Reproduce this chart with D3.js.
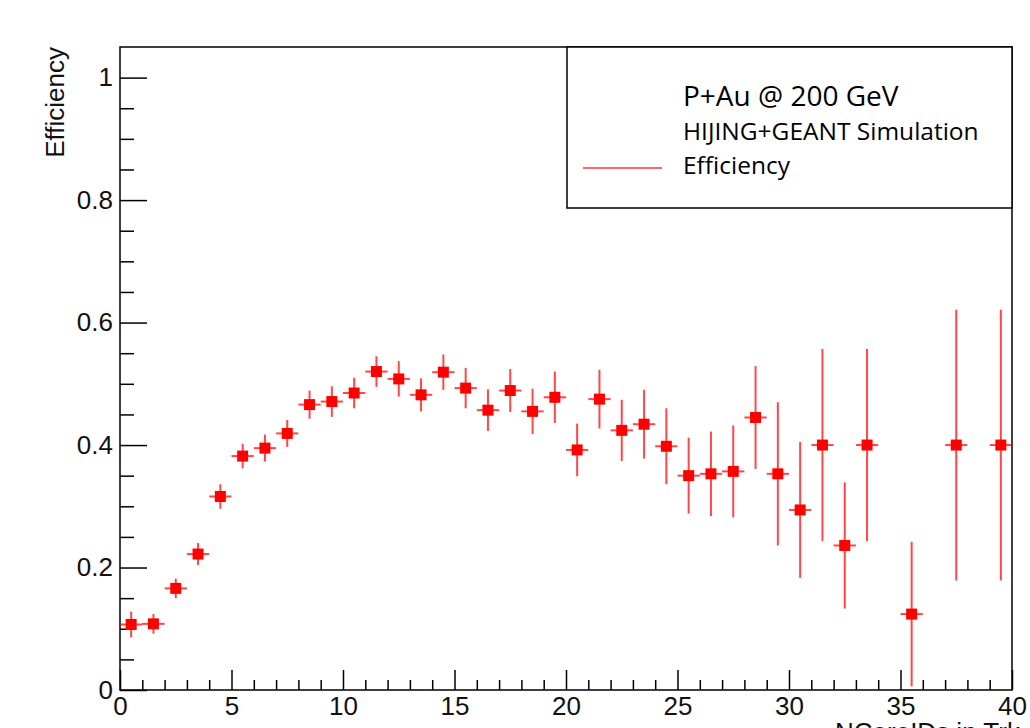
<!DOCTYPE html>
<html>
<head>
<meta charset="utf-8">
<script src="https://cdn.jsdelivr.net/npm/d3@7"></script>
<style>
    body { margin: 0; background: #fff; }
    svg { display: block; }
</style>
</head>
<body>
<div id="chart"></div>
<script>
// bin centres (empty bins 34.5, 36.5, 38.5 are not drawn)
const binCenters = [0.5, 1.5, 2.5, 3.5, 4.5, 5.5, 6.5, 7.5, 8.5, 9.5,
    10.5, 11.5, 12.5, 13.5, 14.5, 15.5, 16.5, 17.5, 18.5, 19.5,
    20.5, 21.5, 22.5, 23.5, 24.5, 25.5, 26.5, 27.5, 28.5, 29.5,
    30.5, 31.5, 32.5, 33.5, 35.5, 37.5, 39.5];
const efficiency = [0.107, 0.108, 0.166, 0.222, 0.316, 0.382, 0.395, 0.419, 0.466, 0.471,
    0.485, 0.520, 0.508, 0.482, 0.519, 0.493, 0.457, 0.489, 0.455, 0.478,
    0.392, 0.475, 0.424, 0.434, 0.398, 0.350, 0.353, 0.357, 0.445, 0.353,
    0.294, 0.400, 0.236, 0.400, 0.124, 0.400, 0.400];
const efficiencyErr = [0.021, 0.016, 0.016, 0.018, 0.020, 0.020, 0.022, 0.022, 0.023, 0.025,
    0.025, 0.025, 0.029, 0.027, 0.029, 0.033, 0.034, 0.035, 0.037, 0.042,
    0.043, 0.048, 0.050, 0.056, 0.062, 0.062, 0.069, 0.075, 0.084, 0.117,
    0.111, 0.157, 0.103, 0.157, 0.118, 0.221, 0.221];

const xMajorTicks = [0, 5, 10, 15, 20, 25, 30, 35, 40];
const xTickLabels = ['0', '5', '10', '15', '20', '25', '30', '35', '40'];
const yMajorTicks = [0, 0.2, 0.4, 0.6, 0.8, 1];
const yTickLabels = ['0', '0.2', '0.4', '0.6', '0.8', '1'];
const legendLines = ['P+Au @ 200 GeV', 'HIJING+GEANT Simulation', 'Efficiency'];

const width = 1030, height = 728;
const frame = { left: 120, right: 1012, top: 47, bottom: 690 };

const svg = d3.select('#chart').append('svg')
    .attr('width', width)
    .attr('height', height);

svg.append('rect')
    .attr('width', width)
    .attr('height', height)
    .attr('fill', '#fff');

const x = d3.scaleLinear().domain([0, 40]).range([frame.left, frame.right]);
const y = d3.scaleLinear().domain([0, 1.05]).range([frame.bottom, frame.top]);

const axisFont = '"Liberation Sans", Arial, sans-serif';
const legendFont = '"Open Sans", sans-serif';

// minor ticks
const xMinor = d3.range(0, 41, 1).filter(v => v % 5 !== 0);
const yMinor = d3.range(0.05, 1.0, 0.05).filter(v => Math.abs(v * 5 - Math.round(v * 5)) > 1e-6);

svg.append('g')
    .attr('transform', `translate(0,${frame.bottom})`)
    .call(d3.axisBottom(x).tickValues(xMinor).tickSize(-10).tickSizeOuter(0).tickFormat(''));
svg.append('g')
    .attr('transform', `translate(0,${frame.bottom})`)
    .call(d3.axisBottom(x).tickValues(xMajorTicks).tickSize(-20).tickSizeOuter(0)
        .tickPadding(6.5).tickFormat((d, i) => xTickLabels[i]));

svg.append('g')
    .attr('transform', `translate(${frame.left},0)`)
    .call(d3.axisLeft(y).tickValues(yMinor).tickSize(-14).tickSizeOuter(0).tickFormat(''));
svg.append('g')
    .attr('transform', `translate(${frame.left},0)`)
    .call(d3.axisLeft(y).tickValues(yMajorTicks).tickSize(-27).tickSizeOuter(0)
        .tickPadding(7).tickFormat((d, i) => yTickLabels[i]));

svg.selectAll('.domain').remove();
svg.selectAll('.tick line').attr('stroke', '#000').attr('stroke-width', 1.5);
svg.selectAll('.tick text')
    .attr('font-family', axisFont)
    .attr('font-size', 26)
    .attr('fill', '#111');

// frame
svg.append('rect')
    .attr('x', frame.left)
    .attr('y', frame.top)
    .attr('width', frame.right - frame.left)
    .attr('height', frame.bottom - frame.top)
    .attr('fill', 'none')
    .attr('stroke', '#000')
    .attr('stroke-width', 1.5);

// axis titles (x title is mostly below the bottom edge, as in the original)
svg.append('text')
    .attr('transform', `translate(64,${frame.top}) rotate(-90)`)
    .attr('text-anchor', 'end')
    .attr('font-family', axisFont)
    .attr('font-size', 26)
    .attr('fill', '#111')
    .text('Efficiency');

svg.append('text')
    .attr('x', 835)
    .attr('y', 741)
    .attr('font-family', axisFont)
    .attr('font-size', 26)
    .attr('fill', '#111')
    .text('NCoreIDs in Trk');

// data points with error bars
svg.append('clipPath').attr('id', 'plotClip')
    .append('rect')
    .attr('x', frame.left)
    .attr('y', frame.top)
    .attr('width', frame.right - frame.left)
    .attr('height', frame.bottom - frame.top);

const points = binCenters.map((c, i) => ({ c: c, v: efficiency[i], e: efficiencyErr[i] }));

const pts = svg.append('g')
    .attr('clip-path', 'url(#plotClip)')
    .selectAll('.pt')
    .data(points)
    .enter().append('g')
    .attr('class', 'pt');

pts.append('line')
    .attr('x1', d => x(d.c))
    .attr('x2', d => x(d.c))
    .attr('y1', d => y(d.v - d.e))
    .attr('y2', d => y(d.v + d.e))
    .attr('stroke', '#ff0000')
    .attr('stroke-opacity', 0.72)
    .attr('stroke-width', 2);

pts.append('line')
    .attr('x1', d => x(d.c - 0.5))
    .attr('x2', d => x(d.c + 0.5))
    .attr('y1', d => y(d.v))
    .attr('y2', d => y(d.v))
    .attr('stroke', '#ff0000')
    .attr('stroke-opacity', 0.72)
    .attr('stroke-width', 2);

pts.append('rect')
    .attr('x', d => x(d.c) - 5.5)
    .attr('y', d => y(d.v) - 5.5)
    .attr('width', 11)
    .attr('height', 11)
    .attr('fill', '#ff0000');

// legend
const legend = svg.append('g');
legend.append('rect')
    .attr('x', 567)
    .attr('y', frame.top)
    .attr('width', frame.right - 567)
    .attr('height', 208 - frame.top)
    .attr('fill', '#fff')
    .attr('stroke', '#000')
    .attr('stroke-width', 1.5);

legend.append('line')
    .attr('x1', 583)
    .attr('x2', 662)
    .attr('y1', 168)
    .attr('y2', 168)
    .attr('stroke', '#ff0000')
    .attr('stroke-opacity', 0.8)
    .attr('stroke-width', 1.5);

const legendSizes = [28, 24.5, 24.5];
const legendBaselines = [106, 140, 174];
legend.selectAll('.legtext')
    .data(legendLines)
    .enter().append('text')
    .attr('class', 'legtext')
    .attr('x', 683)
    .attr('y', (d, i) => legendBaselines[i])
    .attr('font-family', legendFont)
    .attr('font-size', (d, i) => legendSizes[i])
    .attr('fill', '#000')
    .text(d => d);
</script>
</body>
</html>
